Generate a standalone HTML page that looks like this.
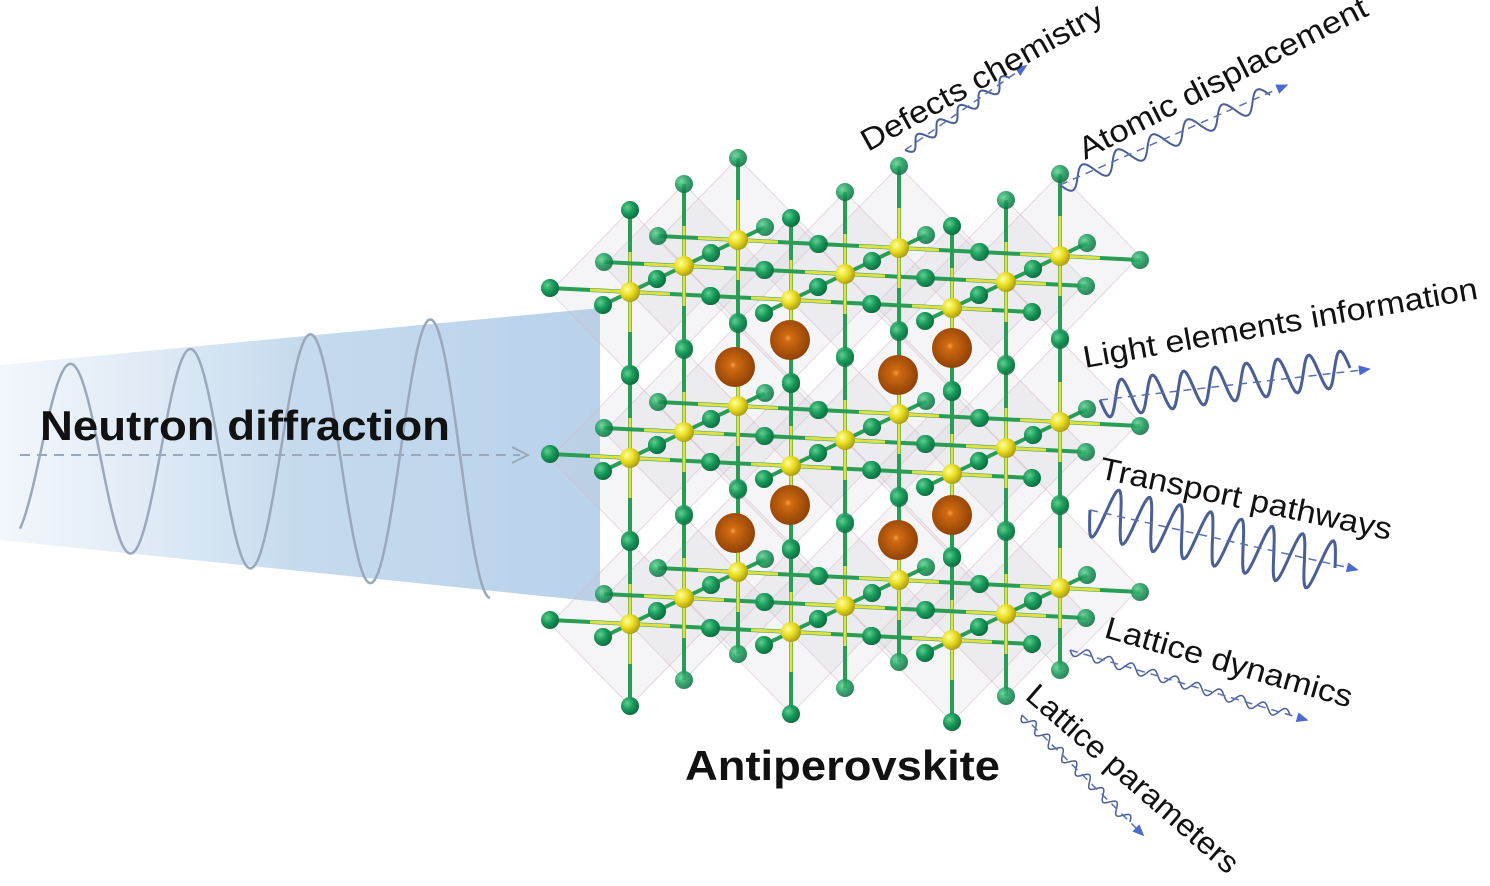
<!DOCTYPE html>
<html><head><meta charset="utf-8"><style>
html,body{margin:0;padding:0;background:#fff;}
svg{display:block;}
text{font-family:"Liberation Sans",Arial,sans-serif;}
</style></head><body>
<svg id="s" width="1490" height="886" viewBox="0 0 1490 886" xmlns="http://www.w3.org/2000/svg">
<defs>
<linearGradient id="beam" x1="0" y1="0" x2="1" y2="0">
<stop offset="0" stop-color="#dde9f5" stop-opacity="0.4"/>
<stop offset="0.5" stop-color="#c5daee"/>
<stop offset="1" stop-color="#b9d2ea"/>
</linearGradient>
<radialGradient id="gG" cx="0.35" cy="0.35" r="0.7"><stop offset="0" stop-color="#5fd08e"/><stop offset="0.5" stop-color="#17995a"/><stop offset="1" stop-color="#0b6a3c"/></radialGradient>
<radialGradient id="gY" cx="0.35" cy="0.35" r="0.7"><stop offset="0" stop-color="#ffff9a"/><stop offset="0.5" stop-color="#e8dc20"/><stop offset="1" stop-color="#a99a10"/></radialGradient>
<radialGradient id="gO" cx="0.45" cy="0.45" r="0.6"><stop offset="0" stop-color="#f3a040"/><stop offset="0.15" stop-color="#d06a10"/><stop offset="1" stop-color="#8a3e06"/></radialGradient>
</defs>
<polygon points="0,365 600,308 600,602 0,540" fill="url(#beam)"/>
<g id="lat"></g>
<path id="sine" fill="none" stroke="#9aa8bb" stroke-width="2.5"/>
<line x1="20" y1="455" x2="520" y2="455" stroke="#9aa8bb" stroke-width="2" stroke-dasharray="10,7"/>
<polyline points="512,447 528,455 512,463" fill="none" stroke="#9aa8bb" stroke-width="2"/>
<text x="40" y="440" font-size="42" font-weight="bold" fill="#111" textLength="410" lengthAdjust="spacingAndGlyphs">Neutron diffraction</text>
<text x="685" y="780" font-size="42" font-weight="bold" fill="#111" textLength="315" lengthAdjust="spacingAndGlyphs">Antiperovskite</text>
<g id="waves"></g>
<g font-size="31" fill="#111">
<text transform="translate(868,152) rotate(-29)" textLength="272" lengthAdjust="spacingAndGlyphs">Defects chemistry</text>
<text transform="translate(1085,160) rotate(-27)" textLength="320" lengthAdjust="spacingAndGlyphs">Atomic displacement</text>
<text transform="translate(1085,368) rotate(-10)" textLength="400" lengthAdjust="spacingAndGlyphs">Light elements information</text>
<text transform="translate(1098,478) rotate(12)" textLength="298" lengthAdjust="spacingAndGlyphs">Transport pathways</text>
<text transform="translate(1103,637) rotate(16)" textLength="256" lengthAdjust="spacingAndGlyphs">Lattice dynamics</text>
<text transform="translate(1024,698) rotate(41)" textLength="270" lengthAdjust="spacingAndGlyphs">Lattice parameters</text>
</g>
</svg>
<script>
const NS="http://www.w3.org/2000/svg";
function el(t,a,p){const e=document.createElementNS(NS,t);for(const k in a)e.setAttribute(k,a[k]);(p||document.getElementById('lat')).appendChild(e);return e;}
let d="";for(let x=20;x<=490;x+=2){const A=85+(x-20)/470*58;const y=455-A*Math.sin((x-40)/120*2*Math.PI);d+=(x==20?"M":"L")+x+","+y.toFixed(1);}
document.getElementById('sine').setAttribute('d',d);
const L=document.getElementById('lat');
const dx=54,dy=-26;
function Y(i,j,k){return [630+161*i+dx*k, 292+166*j+8*i+dy*k];}
for(let k=2;k>=0;k--)for(let j=0;j<3;j++)for(let i=0;i<3;i++){const [x,y]=Y(i,j,k);
 el('polygon',{points:`${x-80},${y} ${x},${y-82} ${x+80},${y} ${x},${y+82}`,fill:'#c8c8d0','fill-opacity':0.18,stroke:'#d8b8c8','stroke-width':1,'stroke-opacity':0.5},L);}
const atoms=[];
for(let k=0;k<3;k++)for(let j=0;j<3;j++)for(let i=0;i<3;i++){const [x,y]=Y(i,j,k);
 el('line',{x1:x-80,y1:y-4,x2:x+80,y2:y+4,stroke:'#2a9d55','stroke-width':4},L);
 el('line',{x1:x,y1:y-82,x2:x,y2:y+82,stroke:'#2a9d55','stroke-width':4},L);
 el('line',{x1:x-27,y1:y+13,x2:x+27,y2:y-13,stroke:'#2a9d55','stroke-width':4},L);
 el('line',{x1:x-40,y1:y-2,x2:x+40,y2:y+2,stroke:'#e0e040','stroke-width':3},L);
 el('line',{x1:x,y1:y-40,x2:x,y2:y+40,stroke:'#e0e040','stroke-width':3},L);
 atoms.push({x:x-80,y:y-4,t:'g',z:k},{x:x+80,y:y+4,t:'g',z:k},{x:x,y:y-82,t:'g',z:k},{x:x,y:y+82,t:'g',z:k},{x:x-27,y:y+13,t:'g',z:k-0.4},{x:x+27,y:y-13,t:'g',z:k+0.4},{x,y,t:'y',z:k});
}
const orange=[[735,367],[790,340],[898,375],[952,348],[735,533],[790,505],[898,540],[952,515]];
orange.forEach(o=>atoms.push({x:o[0],y:o[1],t:'o',z:1}));
atoms.sort((a,b)=>b.z-a.z);
atoms.forEach(a=>{if(a.t=='g')el('circle',{cx:a.x,cy:a.y,r:9,fill:'url(#gG)',opacity:a.z>0.5?0.85:1},L);
 else if(a.t=='y')el('circle',{cx:a.x,cy:a.y,r:10,fill:'url(#gY)'},L);
 else el('circle',{cx:a.x,cy:a.y,r:20,fill:'url(#gO)'},L);});
const W=document.getElementById('waves');
function wave(x0,y0,x1,y1,n,A,sw,ax,ay){const L2=Math.hypot(x1-x0,y1-y0),ux=(x1-x0)/L2,uy=(y1-y0)/L2,nx=-uy,ny=ux;let p="";
 for(let s=0;s<=200;s++){const t=s/200,a=A*Math.sin(t*n*2*Math.PI);const x=x0+ux*L2*t+nx*a,y=y0+uy*L2*t+ny*a;p+=(s?"L":"M")+x.toFixed(1)+","+y.toFixed(1);}
 el('path',{d:p,fill:'none',stroke:'#4a5f95','stroke-width':sw},W);
 el('line',{x1:x0,y1:y0,x2:ax,y2:ay,stroke:'#5a70b0','stroke-width':1.5,'stroke-dasharray':'8,6'},W);
 const s=9;el('polygon',{points:`${ax+ux*s},${ay+uy*s} ${ax-ux*3+nx*5},${ay-uy*3+ny*5} ${ax-ux*3-nx*5},${ay-uy*3-ny*5}`,fill:'#4a6ad0'},W);}
wave(905,150,1010,78,5,6,2,1020,70);
wave(1060,185,1270,95,6,10,2,1280,88);
wave(1100,400,1350,368,8,18,3,1362,370);
wave(1090,510,1335,568,8,26,3,1350,568);
wave(1070,650,1290,715,10,5,1.5,1300,718);
wave(1022,715,1130,822,8,5,1.5,1138,830);
</script>
</body></html>
